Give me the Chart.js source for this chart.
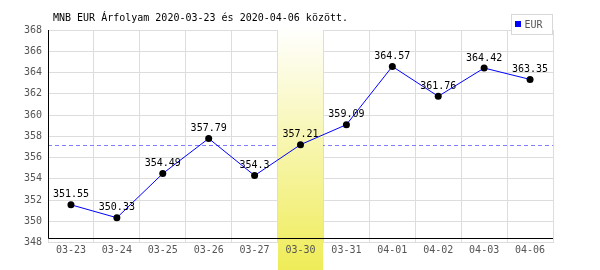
<!DOCTYPE html>
<html>
<head>
<meta charset="utf-8">
<script src="https://cdn.jsdelivr.net/npm/chart.js@4"></script>
<style>
  html, body { margin: 0; padding: 0; background: #fff; }
  #wrap { width: 600px; height: 270px; }
</style>
</head>
<body>
<div id="wrap"><canvas id="rateChart" width="600" height="270"></canvas></div>
<script>
// data
const days = ["03-23","03-24","03-25","03-26","03-27","03-30","03-31","04-01","04-02","04-03","04-06"];
const eurRates = [351.55, 350.33, 354.49, 357.79, 354.3, 357.21, 359.09, 364.57, 361.76, 364.42, 363.35];
const yTicks = [348, 368, 2]; // min, max, step
const highlightIndex = 5;
const seriesName = "EUR";
const titleText = "MNB EUR Árfolyam 2020-03-23 és 2020-04-06 között.";

const MONO = "10px 'DejaVu Sans Mono', monospace";

// draws the yellow column, dashed reference line and black axis lines
const backdrop = {
  id: "backdrop",
  beforeDatasetsDraw(chart){
    const {ctx, chartArea, scales:{x, y}} = chart;
    const refY = Math.round(y.getPixelForValue(eurRates[highlightIndex])) + 0.5;
    ctx.save();
    ctx.strokeStyle = "#7f7fff";
    ctx.lineWidth = 1;
    ctx.setLineDash([4, 3]);
    ctx.beginPath();
    ctx.moveTo(chartArea.left, refY);
    ctx.lineTo(chartArea.right, refY);
    ctx.stroke();
    ctx.setLineDash([]);

    // highlighted day
    const half = (chartArea.right - chartArea.left) / days.length / 2;
    const cx = x.getPixelForValue(highlightIndex);
    const x0 = Math.floor(cx - half) + 1;
    const x1 = Math.floor(cx + half);
    const g = ctx.createLinearGradient(0, 27, 0, chart.height);
    g.addColorStop(0, "#ffffff");
    g.addColorStop(1, "#efec58");
    ctx.fillStyle = g;
    ctx.fillRect(x0, 27, x1 - x0, chart.height - 27);

    // black axis lines
    ctx.strokeStyle = "#000";
    ctx.beginPath();
    ctx.moveTo(chartArea.left + 0.5, chartArea.top);
    ctx.lineTo(chartArea.left + 0.5, chartArea.bottom - 4);
    ctx.lineTo(chartArea.right, chartArea.bottom - 4);
    ctx.stroke();
    ctx.restore();
  },
  afterDatasetsDraw(chart){
    const {ctx} = chart;
    const meta = chart.getDatasetMeta(0);
    ctx.save();
    ctx.font = MONO;
    ctx.fillStyle = "#000";
    ctx.textAlign = "center";
    ctx.textBaseline = "middle";
    meta.data.forEach((pt, i) => {
      ctx.fillText(String(eurRates[i]), pt.x, pt.y - 10);
    });

    // title
    ctx.textAlign = "left";
    ctx.fillText(titleText, 53, 18);

    // legend box
    ctx.fillStyle = "#fff";
    ctx.fillRect(512, 14, 40, 20);
    ctx.strokeStyle = "#d8d8d8";
    ctx.lineWidth = 1;
    ctx.strokeRect(511.5, 14.5, 41, 20);
    ctx.fillStyle = "#0000ff";
    ctx.fillRect(515, 21, 6, 6);
    ctx.fillStyle = "#555";
    ctx.fillText(seriesName, 524.5, 25);
    ctx.restore();
  }
};

new Chart(document.getElementById("rateChart").getContext("2d"), {
  type: "line",
  data: {
    labels: days,
    datasets: [{
      label: seriesName,
      data: eurRates,
      borderColor: "#0000ff",
      borderWidth: 1,
      tension: 0,
      pointRadius: 3.5,
      pointBorderWidth: 0,
      pointBackgroundColor: "#000",
      pointBorderColor: "#000"
    }]
  },
  options: {
    responsive: false,
    devicePixelRatio: 1,
    animation: false,
    layout: { padding: { top: 30, right: 47, left: 0, bottom: 0 } },
    plugins: { legend: { display: false }, title: { display: false }, tooltip: { enabled: false } },
    scales: {
      x: {
        offset: true,
        grid: { offset: true, color: "#dddddd", drawTicks: false },
        border: { display: false },
        // z:1 so the labels land on top of the yellow column
        ticks: { z: 1, color: "#555", font: { family: "'DejaVu Sans Mono', monospace", size: 10 }, padding: 2, maxRotation: 0, autoSkip: false },
        afterFit(scale){ scale.height = 27.5; }
      },
      y: {
        min: yTicks[0],
        max: yTicks[1],
        grid: { color: "#dddddd", drawTicks: false },
        border: { display: false },
        ticks: { stepSize: yTicks[2], color: "#555", font: { family: "'DejaVu Sans Mono', monospace", size: 10 }, padding: 6 },
        afterFit(scale){ scale.width = 48; }
      }
    }
  },
  plugins: [backdrop]
});
</script>
</body>
</html>
